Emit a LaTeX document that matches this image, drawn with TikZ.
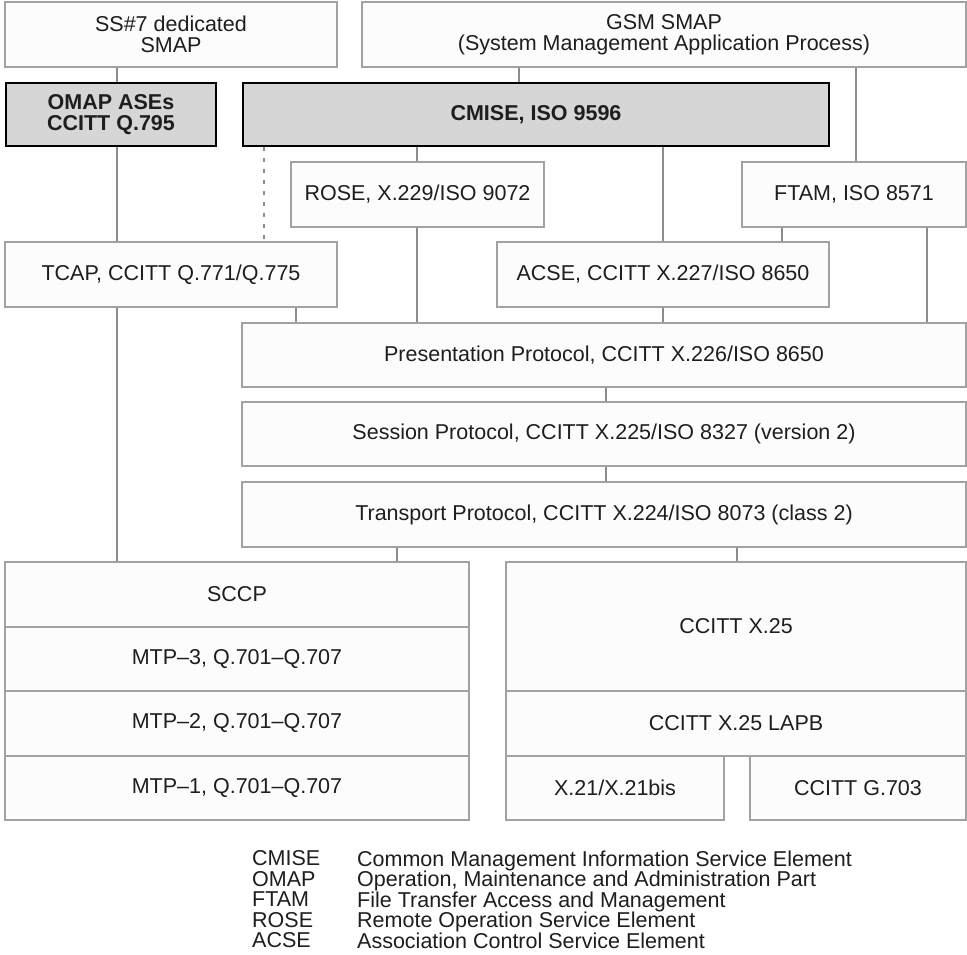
\documentclass[tikz,border=0pt]{standalone}
\usepackage{fontspec}
\setmainfont{Liberation Sans}
\definecolor{boxline}{HTML}{A2A2A2}
\definecolor{boxfill}{HTML}{FCFCFC}
\definecolor{connline}{HTML}{8C8C8C}
\definecolor{hifill}{HTML}{D6D6D6}
\definecolor{txt}{HTML}{1E1E1E}
\tikzset{
  box/.style={draw=boxline, line width=1.3pt, fill=boxfill, inner sep=0pt, text=txt,
    font=\fontsize{21.5}{20.5}\selectfont, align=center},
  hibox/.style={draw=black, line width=2.6pt, fill=hifill, inner sep=0pt, text=txt,
    font=\fontsize{21.5}{20.5}\selectfont\bfseries, align=center},
  conn/.style={draw=connline, line width=1.2pt},
  dashconn/.style={draw=connline, line width=1.2pt, dash pattern=on 4pt off 7pt},
  legtext/.style={inner sep=0pt, anchor=north west, text=txt, align=left,
    font=\fontsize{21.5}{20.5}\selectfont}
}
\begin{document}
\begin{tikzpicture}[x=1pt,y=-1pt]
\useasboundingbox[fill=white] (0,0) rectangle (967,954);
% top row
\node[box, minimum width=332pt, minimum height=65pt] (ss7) at (171,34.5) {SS\#7 dedicated\\SMAP};
\node[box, minimum width=604pt, minimum height=65pt] (gsm) at (664,34.5) {GSM SMAP\\(System Management Application Process)};
% highlighted
\node[hibox, minimum width=210pt, minimum height=63pt] (omap) at (111,114.5) {OMAP ASEs\\CCITT Q.795};
\node[hibox, minimum width=586pt, minimum height=63pt] (cmise) at (536,114.5) {CMISE, ISO 9596};
% application level
\node[box, minimum width=253pt, minimum height=65pt] (rose) at (417.5,194.5) {ROSE, X.229/ISO 9072};
\node[box, minimum width=224pt, minimum height=65pt] (ftam) at (854,194.5) {FTAM, ISO 8571};
\node[box, minimum width=332pt, minimum height=65pt] (tcap) at (171,274.5) {TCAP, CCITT Q.771/Q.775};
\node[box, minimum width=332pt, minimum height=65pt] (acse) at (663,274.5) {ACSE, CCITT X.227/ISO 8650};
% OSI stack
\node[box, minimum width=724pt, minimum height=64pt] (pres) at (604,355) {Presentation Protocol, CCITT X.226/ISO 8650};
\node[box, minimum width=724pt, minimum height=64pt] (sess) at (604,434) {Session Protocol, CCITT X.225/ISO 8327 (version 2)};
\node[box, minimum width=724pt, minimum height=65pt] (trans) at (604,514.5) {Transport Protocol, CCITT X.224/ISO 8073 (class 2)};
% SS7 lower layers
\node[box, minimum width=464pt, minimum height=65pt] (sccp) at (237,594.5) {SCCP};
\node[box, minimum width=464pt, minimum height=64pt] (mtp3) at (237,659) {MTP–3, Q.701–Q.707};
\node[box, minimum width=464pt, minimum height=65pt] (mtp2) at (237,723.5) {MTP–2, Q.701–Q.707};
\node[box, minimum width=464pt, minimum height=64pt] (mtp1) at (237,788) {MTP–1, Q.701–Q.707};
% X.25 lower layers
\node[box, minimum width=460pt, minimum height=129pt] (x25) at (736,626.5) {CCITT X.25};
\node[box, minimum width=460pt, minimum height=65pt] (lapb) at (736,723.5) {CCITT X.25 LAPB};
\node[box, minimum width=218pt, minimum height=64pt] (x21) at (615,788) {X.21/X.21bis};
\node[box, minimum width=216pt, minimum height=64pt] (g703) at (858,788) {CCITT G.703};
% connectors
\draw[conn] (117,0 |- ss7.south) -- (117,0 |- omap.north);
\draw[conn] (117,0 |- omap.south) -- (117,0 |- tcap.north);
\draw[conn] (117,0 |- tcap.south) -- (117,0 |- sccp.north);
\draw[dashconn] (264,0 |- cmise.south) -- (264,0 |- tcap.north);
\draw[conn] (296,0 |- tcap.south) -- (296,0 |- pres.north);
\draw[conn] (519,0 |- gsm.south) -- (519,0 |- cmise.north);
\draw[conn] (417,0 |- cmise.south) -- (417,0 |- rose.north);
\draw[conn] (417,0 |- rose.south) -- (417,0 |- pres.north);
\draw[conn] (663,0 |- cmise.south) -- (663,0 |- acse.north);
\draw[conn] (663,0 |- acse.south) -- (663,0 |- pres.north);
\draw[conn] (856,0 |- gsm.south) -- (856,0 |- ftam.north);
\draw[conn] (782,0 |- ftam.south) -- (782,0 |- acse.north);
\draw[conn] (927,0 |- ftam.south) -- (927,0 |- pres.north);
\draw[conn] (606,0 |- pres.south) -- (606,0 |- sess.north);
\draw[conn] (606,0 |- sess.south) -- (606,0 |- trans.north);
\draw[conn] (397,0 |- trans.south) -- (397,0 |- sccp.north);
\draw[conn] (737,0 |- trans.south) -- (737,0 |- x25.north);
% legend
\node[legtext] (labbr) at (252,850.5) {CMISE\\OMAP\\FTAM\\ROSE\\ACSE};
\node[legtext] (ldef) at (357,850.5) {Common Management Information Service Element\\Operation, Maintenance and Administration Part\\File Transfer Access and Management\\Remote Operation Service Element\\Association Control Service Element};
\end{tikzpicture}
\end{document}
